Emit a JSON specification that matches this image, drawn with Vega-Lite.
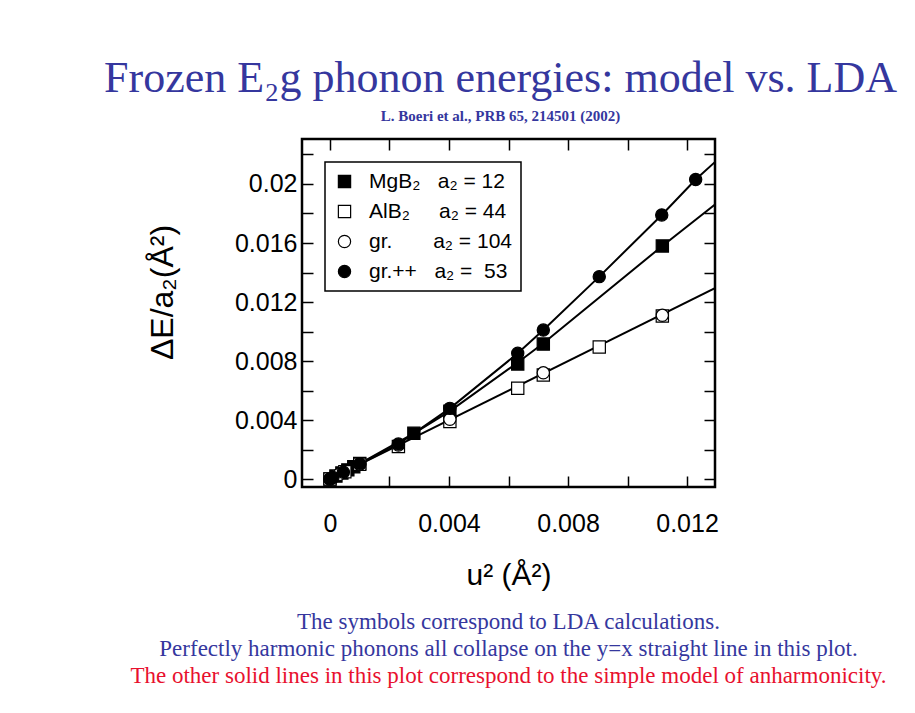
{
  "$schema": "https://vega.github.io/schema/vega-lite/v6.json",
  "background": "white",
  "autosize": {"type": "none"},
  "padding": {"left": 302, "top": 139, "right": 613, "bottom": 574},
  "title": {
    "text": "Frozen E₂g phonon energies: model vs. LDA",
    "subtitle": "L. Boeri et al., PRB 65, 214501 (2002)",
    "anchor": "middle",
    "frame": "group",
    "dx": -8,
    "font": "Liberation Serif",
    "fontSize": 44,
    "fontWeight": "normal",
    "color": "#35379e",
    "subtitleFont": "Liberation Serif",
    "subtitleFontSize": 15,
    "subtitleFontWeight": "bold",
    "subtitleColor": "#35379e",
    "subtitlePadding": 8,
    "offset": 13
  },
  "datasets": {
    "curves": [
      {"curve": "gr.++ model", "u2": 0, "dE": 0},
      {"curve": "gr.++ model", "u2": 0.001, "dE": 0.00102},
      {"curve": "gr.++ model", "u2": 0.0023, "dE": 0.00237},
      {"curve": "gr.++ model", "u2": 0.00403, "dE": 0.00479},
      {"curve": "gr.++ model", "u2": 0.00631, "dE": 0.00852},
      {"curve": "gr.++ model", "u2": 0.00717, "dE": 0.0101},
      {"curve": "gr.++ model", "u2": 0.00905, "dE": 0.01372},
      {"curve": "gr.++ model", "u2": 0.01115, "dE": 0.0179},
      {"curve": "gr.++ model", "u2": 0.01229, "dE": 0.0203},
      {"curve": "gr.++ model", "u2": 0.013, "dE": 0.0216},
      {"curve": "MgB2 model", "u2": 0, "dE": 0},
      {"curve": "MgB2 model", "u2": 0.001, "dE": 0.00105},
      {"curve": "MgB2 model", "u2": 0.00282, "dE": 0.0031},
      {"curve": "MgB2 model", "u2": 0.00403, "dE": 0.0046},
      {"curve": "MgB2 model", "u2": 0.00631, "dE": 0.0079},
      {"curve": "MgB2 model", "u2": 0.00717, "dE": 0.0092},
      {"curve": "MgB2 model", "u2": 0.01117, "dE": 0.0158},
      {"curve": "MgB2 model", "u2": 0.013, "dE": 0.0187},
      {"curve": "harmonic", "u2": 0, "dE": 0},
      {"curve": "harmonic", "u2": 0.013, "dE": 0.013}
    ],
    "points": [
      {"series": "MgB₂\u00a0\u00a0\u00a0a₂ = 12", "u2": 0, "dE": 0},
      {"series": "MgB₂\u00a0\u00a0\u00a0a₂ = 12", "u2": 0.0002, "dE": 0.0002},
      {"series": "MgB₂\u00a0\u00a0\u00a0a₂ = 12", "u2": 0.0004, "dE": 0.00041},
      {"series": "MgB₂\u00a0\u00a0\u00a0a₂ = 12", "u2": 0.0006, "dE": 0.00062},
      {"series": "MgB₂\u00a0\u00a0\u00a0a₂ = 12", "u2": 0.0008, "dE": 0.00083},
      {"series": "MgB₂\u00a0\u00a0\u00a0a₂ = 12", "u2": 0.001, "dE": 0.00105},
      {"series": "MgB₂\u00a0\u00a0\u00a0a₂ = 12", "u2": 0.00282, "dE": 0.0031},
      {"series": "MgB₂\u00a0\u00a0\u00a0a₂ = 12", "u2": 0.00403, "dE": 0.0046},
      {"series": "MgB₂\u00a0\u00a0\u00a0a₂ = 12", "u2": 0.00631, "dE": 0.0078},
      {"series": "MgB₂\u00a0\u00a0\u00a0a₂ = 12", "u2": 0.00717, "dE": 0.00915},
      {"series": "MgB₂\u00a0\u00a0\u00a0a₂ = 12", "u2": 0.01117, "dE": 0.0158},
      {"series": "AlB₂\u00a0\u00a0\u00a0\u00a0\u00a0a₂ = 44", "u2": 0, "dE": 0},
      {"series": "AlB₂\u00a0\u00a0\u00a0\u00a0\u00a0a₂ = 44", "u2": 0.0005, "dE": 0.0005},
      {"series": "AlB₂\u00a0\u00a0\u00a0\u00a0\u00a0a₂ = 44", "u2": 0.001, "dE": 0.001},
      {"series": "AlB₂\u00a0\u00a0\u00a0\u00a0\u00a0a₂ = 44", "u2": 0.0023, "dE": 0.0022},
      {"series": "AlB₂\u00a0\u00a0\u00a0\u00a0\u00a0a₂ = 44", "u2": 0.00403, "dE": 0.0039},
      {"series": "AlB₂\u00a0\u00a0\u00a0\u00a0\u00a0a₂ = 44", "u2": 0.00631, "dE": 0.00615},
      {"series": "AlB₂\u00a0\u00a0\u00a0\u00a0\u00a0a₂ = 44", "u2": 0.00717, "dE": 0.00705},
      {"series": "AlB₂\u00a0\u00a0\u00a0\u00a0\u00a0a₂ = 44", "u2": 0.00905, "dE": 0.00895},
      {"series": "AlB₂\u00a0\u00a0\u00a0\u00a0\u00a0a₂ = 44", "u2": 0.01117, "dE": 0.01105},
      {"series": "gr.\u00a0\u00a0\u00a0\u00a0\u00a0\u00a0\u00a0a₂ = 104", "u2": 0, "dE": 0},
      {"series": "gr.\u00a0\u00a0\u00a0\u00a0\u00a0\u00a0\u00a0a₂ = 104", "u2": 0.0003, "dE": 0.0003},
      {"series": "gr.\u00a0\u00a0\u00a0\u00a0\u00a0\u00a0\u00a0a₂ = 104", "u2": 0.001, "dE": 0.001},
      {"series": "gr.\u00a0\u00a0\u00a0\u00a0\u00a0\u00a0\u00a0a₂ = 104", "u2": 0.0023, "dE": 0.0023},
      {"series": "gr.\u00a0\u00a0\u00a0\u00a0\u00a0\u00a0\u00a0a₂ = 104", "u2": 0.00403, "dE": 0.00405},
      {"series": "gr.\u00a0\u00a0\u00a0\u00a0\u00a0\u00a0\u00a0a₂ = 104", "u2": 0.00717, "dE": 0.0072},
      {"series": "gr.\u00a0\u00a0\u00a0\u00a0\u00a0\u00a0\u00a0a₂ = 104", "u2": 0.01117, "dE": 0.0111},
      {"series": "gr.++\u00a0\u00a0\u00a0a₂ =\u00a0\u00a053", "u2": 0, "dE": 0},
      {"series": "gr.++\u00a0\u00a0\u00a0a₂ =\u00a0\u00a053", "u2": 0.0001, "dE": 0.0001},
      {"series": "gr.++\u00a0\u00a0\u00a0a₂ =\u00a0\u00a053", "u2": 0.00045, "dE": 0.00046},
      {"series": "gr.++\u00a0\u00a0\u00a0a₂ =\u00a0\u00a053", "u2": 0.001, "dE": 0.00102},
      {"series": "gr.++\u00a0\u00a0\u00a0a₂ =\u00a0\u00a053", "u2": 0.0023, "dE": 0.00237},
      {"series": "gr.++\u00a0\u00a0\u00a0a₂ =\u00a0\u00a053", "u2": 0.00403, "dE": 0.00479},
      {"series": "gr.++\u00a0\u00a0\u00a0a₂ =\u00a0\u00a053", "u2": 0.00631, "dE": 0.00852},
      {"series": "gr.++\u00a0\u00a0\u00a0a₂ =\u00a0\u00a053", "u2": 0.00717, "dE": 0.0101},
      {"series": "gr.++\u00a0\u00a0\u00a0a₂ =\u00a0\u00a053", "u2": 0.00905, "dE": 0.01372},
      {"series": "gr.++\u00a0\u00a0\u00a0a₂ =\u00a0\u00a053", "u2": 0.01115, "dE": 0.0179},
      {"series": "gr.++\u00a0\u00a0\u00a0a₂ =\u00a0\u00a053", "u2": 0.01229, "dE": 0.0203}
    ],
    "notes": [
      {"line": 1, "kind": "LDA", "text": "The symbols correspond to LDA calculations."},
      {"line": 2, "kind": "LDA", "text": "Perfectly harmonic phonons all collapse on the y=x straight line in this plot."},
      {"line": 3, "kind": "model", "text": "The other solid lines in this plot correspond to the simple model of anharmonicity."}
    ]
  },
  "vconcat": [
    {
      "width": 413,
      "height": 348,
      "view": {"stroke": "black", "strokeWidth": 2.5},
      "layer": [
        {
          "data": {"name": "curves"},
          "mark": {"type": "line", "color": "black", "strokeWidth": 2, "clip": true},
          "encoding": {
            "x": {
              "field": "u2", "type": "quantitative",
              "scale": {"domain": [-0.00094, 0.01294], "nice": false, "zero": false},
              "axis": {
                "orient": "bottom",
                "values": [0, 0.002, 0.004, 0.006, 0.008, 0.01, 0.012],
                "format": "~g",
                "labelExpr": "round(datum.value * 1000) % 4 === 0 ? datum.label : ''",
                "labelPadding": 35,
                "title": "u² (Å²)",
                "titlePadding": 24
              }
            },
            "y": {
              "field": "dE", "type": "quantitative",
              "scale": {"domain": [-0.00054, 0.02305], "nice": false, "zero": false},
              "axis": {
                "orient": "left",
                "values": [0, 0.002, 0.004, 0.006, 0.008, 0.01, 0.012, 0.014, 0.016, 0.018, 0.02, 0.022],
                "format": "~g",
                "labelExpr": "round(datum.value * 1000) % 4 === 0 ? datum.label : ''",
                "labelPadding": 16,
                "title": "ΔE/a₂(Å²)",
                "titleFontSize": 32,
                "titlePadding": 55,
                "titleY": 153
              }
            },
            "detail": {"field": "curve"}
          }
        },
        {
          "data": {"name": "points"},
          "mark": {"type": "point", "filled": true, "size": 150, "strokeWidth": 1.2, "opacity": 1},
          "encoding": {
            "x": {
              "field": "u2", "type": "quantitative",
              "scale": {"domain": [-0.00094, 0.01294], "nice": false, "zero": false},
              "axis": {"orient": "top", "values": [0, 0.002, 0.004, 0.006, 0.008, 0.01, 0.012], "labels": false, "title": null}
            },
            "y": {
              "field": "dE", "type": "quantitative",
              "scale": {"domain": [-0.00054, 0.02305], "nice": false, "zero": false},
              "axis": {"orient": "right", "values": [0, 0.002, 0.004, 0.006, 0.008, 0.01, 0.012, 0.014, 0.016, 0.018, 0.02, 0.022], "labels": false, "title": null}
            },
            "shape": {
              "field": "series", "type": "nominal",
              "scale": {
                "domain": ["MgB₂\u00a0\u00a0\u00a0a₂ = 12", "AlB₂\u00a0\u00a0\u00a0\u00a0\u00a0a₂ = 44", "gr.\u00a0\u00a0\u00a0\u00a0\u00a0\u00a0\u00a0a₂ = 104", "gr.++\u00a0\u00a0\u00a0a₂ =\u00a0\u00a053"],
                "range": ["square", "square", "circle", "circle"]
              },
              "legend": {"title": null}
            },
            "fill": {
              "field": "series", "type": "nominal",
              "scale": {
                "domain": ["MgB₂\u00a0\u00a0\u00a0a₂ = 12", "AlB₂\u00a0\u00a0\u00a0\u00a0\u00a0a₂ = 44", "gr.\u00a0\u00a0\u00a0\u00a0\u00a0\u00a0\u00a0a₂ = 104", "gr.++\u00a0\u00a0\u00a0a₂ =\u00a0\u00a053"],
                "range": ["black", "white", "white", "black"]
              },
              "legend": {"title": null}
            },
            "stroke": {
              "field": "series", "type": "nominal",
              "scale": {
                "domain": ["MgB₂\u00a0\u00a0\u00a0a₂ = 12", "AlB₂\u00a0\u00a0\u00a0\u00a0\u00a0a₂ = 44", "gr.\u00a0\u00a0\u00a0\u00a0\u00a0\u00a0\u00a0a₂ = 104", "gr.++\u00a0\u00a0\u00a0a₂ =\u00a0\u00a053"],
                "range": ["black", "black", "black", "black"]
              },
              "legend": {"title": null}
            }
          }
        }
      ],
      "resolve": {"axis": {"x": "independent", "y": "independent"}}
    },
    {
      "width": 413,
      "height": 81,
      "view": {"stroke": null},
      "data": {"name": "notes"},
      "mark": {"type": "text", "font": "Liberation Serif", "fontSize": 23, "align": "center", "baseline": "middle"},
      "encoding": {
        "y": {"field": "line", "type": "quantitative", "scale": {"domain": [0.5, 3.5], "reverse": true}, "axis": null},
        "text": {"field": "text"},
        "color": {"field": "kind", "type": "nominal", "scale": {"domain": ["LDA", "model"], "range": ["#35379e", "#e8102e"]}, "legend": null}
      }
    }
  ],
  "spacing": 121,
  "bounds": "flush",
  "config": {
    "axis": {
      "domain": false,
      "grid": false,
      "ticks": true,
      "tickSize": -11,
      "tickWidth": 1.5,
      "tickColor": "black",
      "labelFont": "Liberation Sans, DejaVu Sans, sans-serif",
      "labelFontSize": 25,
      "labelColor": "black",
      "labelFlush": false,
      "labelOverlap": false,
      "titleFont": "Liberation Sans, DejaVu Sans, sans-serif",
      "titleFontSize": 30,
      "titleFontWeight": "normal",
      "titleColor": "black"
    },
    "legend": {
      "orient": "top-left",
      "offset": 23,
      "padding": 9,
      "strokeColor": "black",
      "strokeWidth": 1.5,
      "fillColor": "white",
      "labelFont": "Liberation Sans, DejaVu Sans, sans-serif",
      "labelFontSize": 21,
      "labelColor": "black",
      "labelLimit": 400,
      "labelOffset": 14,
      "rowPadding": 8,
      "symbolSize": 150,
      "symbolStrokeWidth": 1.2
    }
  }
}
